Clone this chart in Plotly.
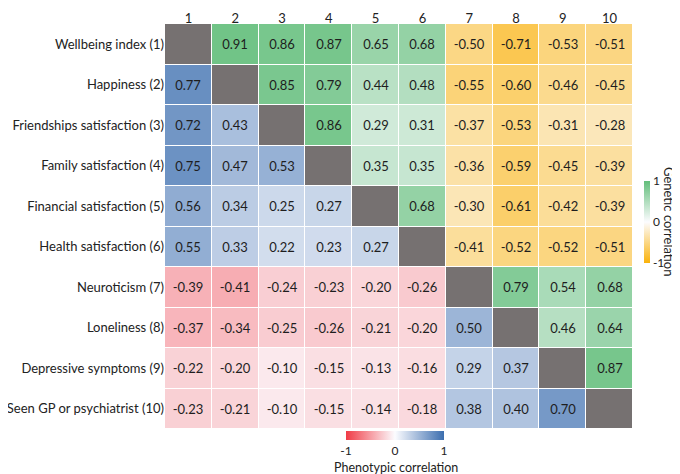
import plotly.graph_objects as go

# 데이터
traits = ["Wellbeing index (1)", "Happiness (2)", "Friendships satisfaction (3)",
          "Family satisfaction (4)", "Financial satisfaction (5)", "Health satisfaction (6)",
          "Neuroticism (7)", "Loneliness (8)", "Depressive symptoms (9)",
          "Seen GP or psychiatrist (10)"]
col_labels = ["1", "2", "3", "4", "5", "6", "7", "8", "9", "10"]

# 유전 상관 (위쪽 삼각형, 행 i 의 i+1..10 열)
genetic_rows = [
    [0.91, 0.86, 0.87, 0.65, 0.68, -0.50, -0.71, -0.53, -0.51],
    [0.85, 0.79, 0.44, 0.48, -0.55, -0.60, -0.46, -0.45],
    [0.86, 0.29, 0.31, -0.37, -0.53, -0.31, -0.28],
    [0.35, 0.35, -0.36, -0.59, -0.45, -0.39],
    [0.68, -0.30, -0.61, -0.42, -0.39],
    [-0.41, -0.52, -0.52, -0.51],
    [0.79, 0.54, 0.68],
    [0.46, 0.64],
    [0.87],
]
# 표현형 상관 (아래쪽 삼각형, 행 i 의 1..i-1 열)
phenotypic_rows = [
    [0.77],
    [0.72, 0.43],
    [0.75, 0.47, 0.53],
    [0.56, 0.34, 0.25, 0.27],
    [0.55, 0.33, 0.22, 0.23, 0.27],
    [-0.39, -0.41, -0.24, -0.23, -0.20, -0.26],
    [-0.37, -0.34, -0.25, -0.26, -0.21, -0.20, 0.50],
    [-0.22, -0.20, -0.10, -0.15, -0.13, -0.16, 0.29, 0.37],
    [-0.23, -0.21, -0.10, -0.15, -0.14, -0.18, 0.38, 0.40, 0.70],
]

n = len(traits)
gen_z = [[None] * n for _ in range(n)]
phe_z = [[None] * n for _ in range(n)]
diag_z = [[None] * n for _ in range(n)]
for i, row in enumerate(genetic_rows):
    for k, v in enumerate(row):
        gen_z[i][i + 1 + k] = v
for i, row in enumerate(phenotypic_rows):
    for k, v in enumerate(row):
        phe_z[i + 1][k] = v
for i in range(n):
    diag_z[i][i] = 0


def fmt(z):
    return [["" if v is None else f"{v:.2f}" for v in r] for r in z]


font_main = "Lato, 'Open Sans', sans-serif"
# 페이지 body 여백 8px 만큼 그림을 줄임
OFF = 8
W, H = 680 - OFF, 474 - OFF
# 화면 기준 격자 위치: x 165..633, y 24..429
L, R, T, B = 165 - OFF, 680 - 633, 24 - OFF, 474 - 429
PW, PH = W - L - R, H - T - B  # 그림 영역 크기


def px_x(x):
    # 화면 좌표 -> paper 좌표
    return (x - OFF - L) / PW


def px_y(y):
    return (H - B - (y - OFF)) / PH


fig = go.Figure()

#표현형 상관 (아래)
fig.add_trace(go.Heatmap(
    z=phe_z, x=col_labels, y=traits, text=fmt(phe_z), texttemplate="%{text}",
    textfont=dict(size=13, color="#1e1e1e", family=font_main),
    zmin=-1, zmax=1, xgap=1, ygap=1, hoverongaps=False,
    colorscale=[[0, "rgb(240,60,70)"], [0.5, "rgb(252,252,255)"], [1, "rgb(60,110,175)"]],
    colorbar=dict(orientation="h", x=px_x(395), xanchor="center", y=px_y(431), yanchor="top",
                  len=98, lenmode="pixels", thickness=9, outlinewidth=0, xpad=0, ypad=0,
                  tickvals=[-1, 0, 1], ticktext=["-1", "0", "1"], ticks="",
                  tickfont=dict(size=12, color="#222")),
))

#유전 상관 (위)
fig.add_trace(go.Heatmap(
    z=gen_z, x=col_labels, y=traits, text=fmt(gen_z), texttemplate="%{text}",
    textfont=dict(size=13, color="#1e1e1e", family=font_main),
    zmin=-1, zmax=1, xgap=1, ygap=1, hoverongaps=False,
    colorscale=[[0, "rgb(250,178,10)"], [0.5, "rgb(252,252,255)"], [1, "rgb(99,190,123)"]],
    colorbar=dict(x=px_x(644), xanchor="left", y=px_y(222), yanchor="middle",
                  len=82, lenmode="pixels", thickness=6, outlinewidth=0, xpad=0, ypad=0,
                  tickvals=[-1, 0, 1], ticktext=["-1", "0", "1"], ticks="",
                  tickfont=dict(size=12, color="#222")),
))

#대각선 회색
fig.add_trace(go.Heatmap(
    z=diag_z, x=col_labels, y=traits, xgap=1, ygap=1, hoverongaps=False,
    colorscale=[[0, "#767171"], [1, "#767171"]], showscale=False,
))

#컬러바 제목
fig.add_annotation(text="Genetic correlation", textangle=90, xref="paper", yref="paper",
                   x=px_x(669), y=px_y(222), xanchor="center", yanchor="middle", showarrow=False,
                   font=dict(size=13, color="#222"))
fig.add_annotation(text="Phenotypic correlation", xref="paper", yref="paper",
                   x=px_x(396), y=px_y(467), xanchor="center", yanchor="middle", showarrow=False,
                   font=dict(size=12.5, color="#222"))

fig.update_layout(
    width=W, height=H,
    margin=dict(l=L, r=R, t=T, b=B, pad=0),
    plot_bgcolor="white", paper_bgcolor="white",
    font=dict(family=font_main, size=13, color="#222"),
)
fig.update_xaxes(side="top", showgrid=False, zeroline=False, ticks="", ticklen=0,
                 automargin=False, ticklabelstandoff=-3)
fig.update_yaxes(autorange="reversed", showgrid=False, zeroline=False, ticks="", ticklen=0,
                 automargin=False)

fig.write_html("out.html")
